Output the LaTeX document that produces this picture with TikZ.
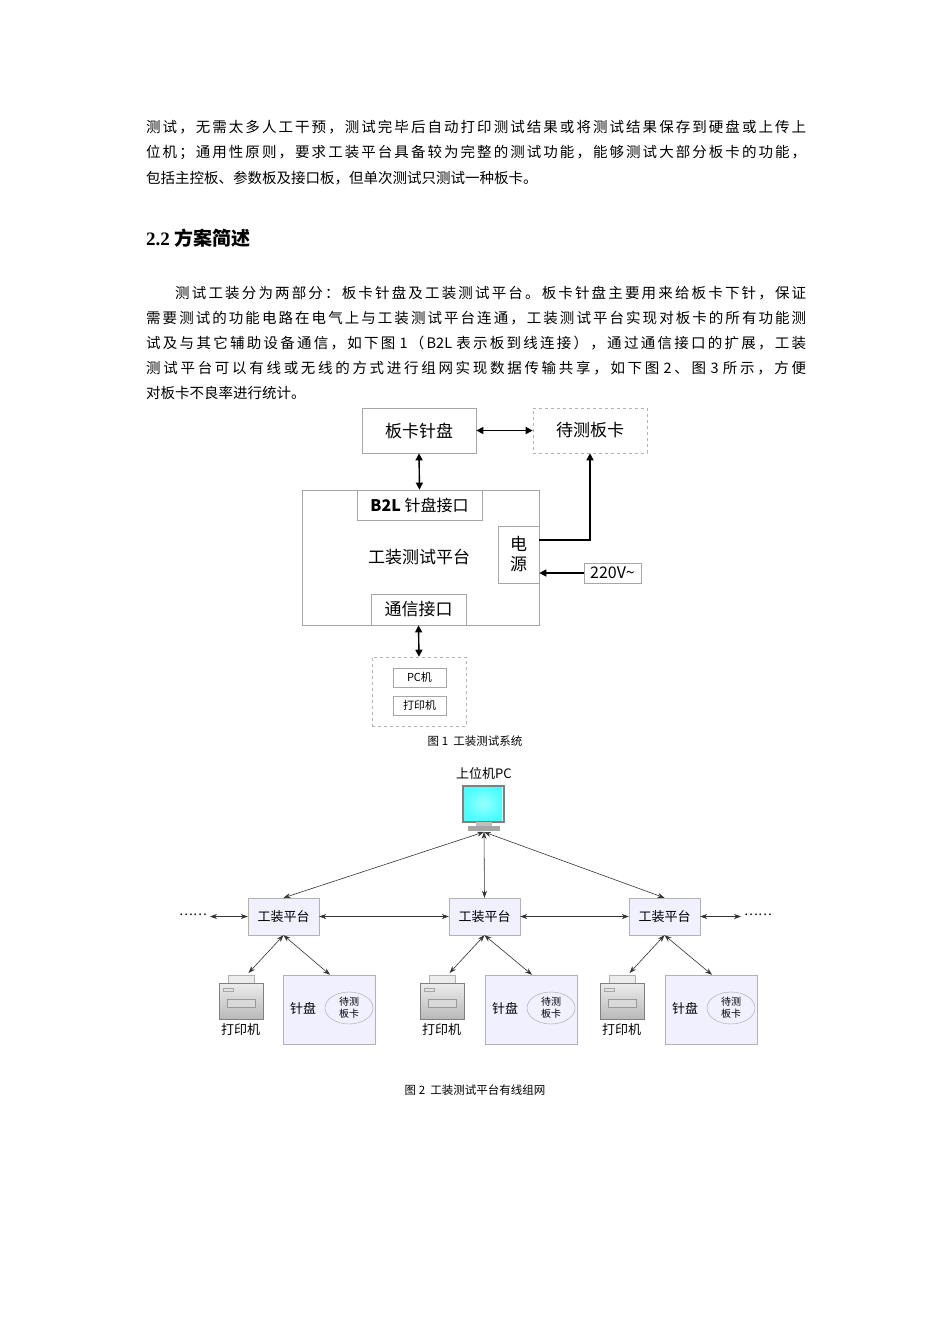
\documentclass[tikz,border=0pt]{standalone}
\usepackage{fontspec}
\setmainfont{Noto Sans CJK SC}
\newfontfamily\serifl{Liberation Serif}
\usetikzlibrary{arrows.meta,shapes.geometric}
\newcount\cjkc
\cjkc="4E00 \loop \XeTeXcharclass\cjkc=1 \advance\cjkc 1 \ifnum\cjkc<"A000 \repeat
\cjkc="3000 \loop \XeTeXcharclass\cjkc=1 \advance\cjkc 1 \ifnum\cjkc<"3040 \repeat
\cjkc="FF00 \loop \XeTeXcharclass\cjkc=1 \advance\cjkc 1 \ifnum\cjkc<"FFF0 \repeat
\XeTeXinterchartokenstate=1
\XeTeXinterchartoks 1 1 = {\hskip0pt plus 4pt\relax}
\XeTeXinterchartoks 0 1 = {\hskip0pt plus 4pt\relax}
\XeTeXinterchartoks 1 0 = {\hskip0pt plus 4pt\relax}
\begin{document}
\begin{tikzpicture}[x=1pt,y=-1pt,
 body/.style={anchor=west,inner sep=0,font=\fontsize{14.5}{16}\selectfont},
 jus/.style={body,text width=660pt,align=justify},
 bx/.style={draw=gray!70,line width=0.7pt,minimum width=#1,inner sep=0},
 dbx/.style={draw=gray!60,dashed,line width=0.6pt,inner sep=0},
 ar/.style={line width=1.4pt,{Triangle[length=7pt,width=7pt]}-{Triangle[length=7pt,width=7pt]}},
 ar2/.style={line width=0.6pt,black!80,{Stealth[length=7pt,width=5pt]}-{Stealth[length=7pt,width=5pt]}},
 plat/.style={draw=gray!60,fill=blue!6,minimum width=71pt,minimum height=37pt,inner sep=0,font=\fontsize{13}{14}\selectfont},
 board/.style={draw=gray!60,fill=blue!6,minimum width=92pt,minimum height=69pt,inner sep=0},
 captxt/.style={font=\fontsize{11.5}{13}\selectfont,inner sep=0}
]
\useasboundingbox (0,0) rectangle (950,1344);
\fill[white] (0,0) rectangle (950,1344);
% body text
\node[jus] (l1) at (146,127) {测试，无需太多人工干预，测试完毕后自动打印测试结果或将测试结果保存到硬盘或上传上\parfillskip=0pt\par};
\node[jus] (l2) at (146,153) {位机；通用性原则，要求工装平台具备较为完整的测试功能，能够测试大部分板卡的功能，\parfillskip=0pt\par};
\node[body] (l3) at (146,178) {包括主控板、参数板及接口板，但单次测试只测试一种板卡。};
\node[body,font=\fontsize{19}{22}\selectfont\bfseries] (h) at (146,238) {{\serifl 2.2} 方案简述};
\node[jus] (p1) at (146,293) {\hspace*{2em}测试工装分为两部分：板卡针盘及工装测试平台。板卡针盘主要用来给板卡下针，保证\parfillskip=0pt\par};
\node[jus] (p2) at (146,318) {需要测试的功能电路在电气上与工装测试平台连通，工装测试平台实现对板卡的所有功能测\parfillskip=0pt\par};
\node[jus] (p3) at (146,343) {试及与其它辅助设备通信，如下图 1（B2L 表示板到线连接），通过通信接口的扩展，工装\parfillskip=0pt\par};
\node[jus] (p4) at (146,368) {测试平台可以有线或无线的方式进行组网实现数据传输共享，如下图 2、图 3 所示，方便\parfillskip=0pt\par};
\node[body] (p5) at (146,393) {对板卡不良率进行统计。};
% figure 1
\node[bx=114pt,minimum height=45pt,font=\fontsize{17}{18}\selectfont] (zp) at (419,430.5) {板卡针盘};
\node[dbx,minimum width=114pt,minimum height=45pt,font=\fontsize{17}{18}\selectfont] (dc) at (590,430.5) {待测板卡};
\draw[ar] (zp) -- (dc);
\node[bx=237pt,minimum height=135pt] (pt) at (420.5,557.5) {};
\node[font=\fontsize{17}{18}\selectfont] (ptl) at (419,557) {工装测试平台};
\node[bx=125pt,minimum height=30pt,font=\fontsize{16}{18}\selectfont] (b2l) at (419.5,505) {\textbf{B2L} 针盘接口};
\node[bx=41pt,minimum height=57pt,align=center,font=\fontsize{17}{20}\selectfont] (dy) at (518.5,554.5) {电\\源};
\node[bx=95pt,minimum height=31pt,font=\fontsize{17}{18}\selectfont] (tx) at (418.5,609.5) {通信接口};
\node[bx=57pt,minimum height=20pt,font=\fontsize{16}{18}\selectfont] (v) at (612.5,573) {220V\textasciitilde};
\draw[ar] (zp.south) -- (b2l.north);
\coordinate (c1) at (590,540);
\draw[line width=1.4pt,-{Triangle[length=7pt,width=7pt]}] (dy.east|-c1) -- (c1) -- (dc.south-|c1);
\draw[line width=1.4pt,-{Triangle[length=7pt,width=7pt]}] (v.west) -- (dy.east|-v.west);
\node[dbx,minimum width=94pt,minimum height=69pt] (grp) at (419,691.5) {};
\node[bx=53pt,minimum height=19pt,font=\fontsize{11}{12}\selectfont] (pc) at (419.5,677.5) {PC机};
\node[bx=53pt,minimum height=19pt,font=\fontsize{11}{12}\selectfont] (pr) at (419.5,705.5) {打印机};
\draw[ar] (tx.south) -- (grp.north);
\node[captxt] (c1t) at (475,741) {图 1\ \ 工装测试系统};
% figure 2
\node[font=\fontsize{13}{14}\selectfont,inner sep=0] (pcl) at (484,774) {上位机PC};
\shade[inner color=white!60!cyan,outer color=cyan!70!white] (464,787) rectangle (502,820);
\draw[gray,line width=2pt] (462.5,785.5) rectangle (503.5,821.5);
\fill[gray!50] (476,822) rectangle (492,826);
\fill[gray!70] (468,826) rectangle (500,831);
\coordinate (mon) at (484,832);
\node[plat] (t1) at (283.5,916.5) {工装平台};
\node[plat] (t2) at (484.5,916.5) {工装平台};
\node[plat] (t3) at (664.5,916.5) {工装平台};
\foreach \t in {t1,t2,t3} \draw[ar2] (mon) -- (\t.north);
\node[inner sep=0,font=\fontsize{13}{14}\selectfont] (dl) at (193,915) {……};
\node[inner sep=0,font=\fontsize{13}{14}\selectfont] (dr) at (758,915) {……};
\draw[ar2] ([xshift=3pt]dl.east|-t1.west) -- (t1.west);
\draw[ar2] (t1) -- (t2);
\draw[ar2] (t2) -- (t3);
\draw[ar2] (t3.east) -- ([xshift=-3pt]dr.west|-t3.east);
\foreach \i/\px/\bx in {1/241.5/329, 2/442.5/531, 3/622.5/711}{
  \begin{scope}[shift={(\px,997)}]
   \fill[gray!15] (-13,-22) rectangle (13,-13);
   \draw[gray!60] (-13,-22) rectangle (13,-13);
   \shade[top color=gray!15,bottom color=gray!55] (-22,-14) rectangle (22,22);
   \draw[gray] (-22,-14) rectangle (22,22);
   \draw[gray!70] (-18,-9) rectangle (-8,-6);
   \fill[gray!30] (-14,2) rectangle (14,10);
   \draw[gray!80] (-14,2) rectangle (14,10);
  \end{scope}
  \node[inner sep=0,font=\fontsize{13}{14}\selectfont] (pl\i) at (\px-1,1030) {打印机};
  \coordinate (pi\i) at (\px+7,973);
  \node[board] (b\i) at (\bx,1009.5) {};
  \node[inner sep=0,font=\fontsize{13}{14}\selectfont] (zl\i) at (\bx-26,1008) {针盘};
  \node[draw=gray!70,ellipse,minimum width=48pt,minimum height=32pt,inner sep=0,align=center,font=\fontsize{10}{12}\selectfont] (e\i) at (\bx+20,1008) {待测\\板卡};
  \draw[ar2] (t\i.south) -- (pi\i);
  \draw[ar2] (t\i.south) -- ([xshift=1pt]b\i.north);
}
\node[captxt] (c2t) at (475,1090) {图 2\ \ 工装测试平台有线组网};
\end{tikzpicture}
\end{document}
